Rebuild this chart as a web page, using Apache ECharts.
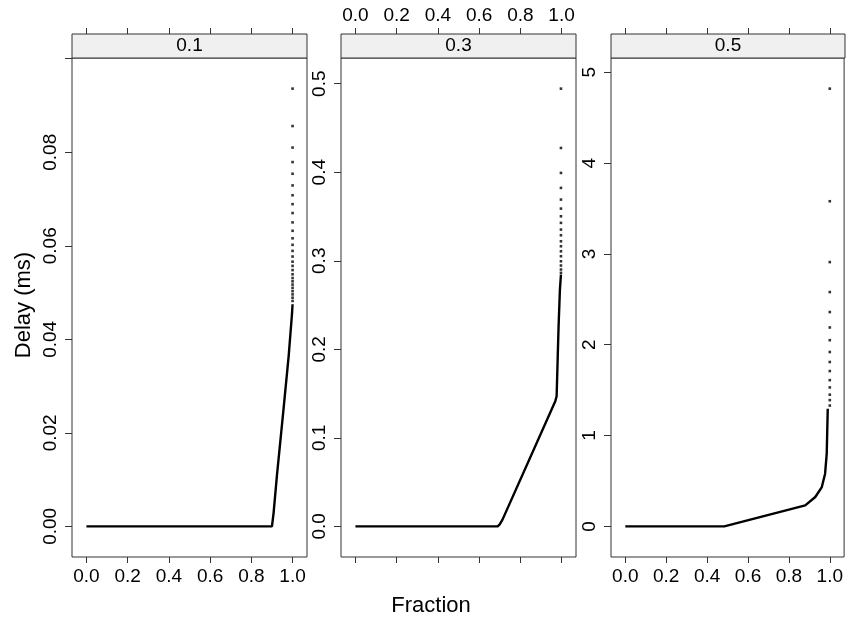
<!DOCTYPE html>
<html><head><meta charset="utf-8">
<script src="https://cdn.jsdelivr.net/npm/echarts@6/dist/echarts.min.js"></script>
<style>html,body{margin:0;padding:0;background:#fff}#c{width:846px;height:620px}</style>
</head><body><div id="c"></div>
<script>
// ---- data ----
const panelNames = ['0.1', '0.3', '0.5'];
const xTicks = [0, 0.2, 0.4, 0.6, 0.8, 1.0];

// panel "0.1"
const p1LineFrac  = [0, 0.900, 0.908, 0.924, 0.956, 0.981, 0.997, 1.0];
const p1LineDelay = [0, 0, 0.0029, 0.0108, 0.0250, 0.0364, 0.0453, 0.0475];
const p1DotDelay  = [0.0936, 0.0856, 0.0810, 0.0779, 0.0754, 0.0729, 0.0708, 0.0689, 0.0670, 0.0650,
                     0.0632, 0.0616, 0.0602, 0.0589, 0.0577, 0.0566, 0.0557, 0.0548, 0.0539, 0.0531,
                     0.0524, 0.0517, 0.0510, 0.0503, 0.0496, 0.0489, 0.0482];
const p1YTicks  = [0, 0.02, 0.04, 0.06, 0.08, 0.10];
const p1YLabels = [0, 0.02, 0.04, 0.06, 0.08];

// panel "0.3"
const p2LineFrac  = [0, 0.690, 0.700, 0.714, 0.9695, 0.976, 0.981, 0.9855, 0.992, 0.997];
const p2LineDelay = [0, 0, 0.0023, 0.0079, 0.1414, 0.147, 0.1885, 0.226, 0.2675, 0.2844];
const p2DotDelay  = [0.4944, 0.4274, 0.3992, 0.3823, 0.3691, 0.3589, 0.3502, 0.3428, 0.3352, 0.3288,
                     0.3220, 0.3164, 0.3107, 0.3051, 0.2994, 0.2946, 0.2901, 0.2863];
const p2YTicks  = [0, 0.1, 0.2, 0.3, 0.4, 0.5];

// panel "0.5"
const p3LineFrac  = [0, 0.484, 0.880, 0.929, 0.961, 0.977, 0.985, 0.990];
const p3LineDelay = [0, 0, 0.231, 0.323, 0.433, 0.580, 0.800, 1.296];
const p3DotDelay  = [4.82, 3.58, 2.91, 2.58, 2.36, 2.19, 2.05, 1.92, 1.81, 1.71, 1.61, 1.53, 1.45, 1.39, 1.33];
const p3YTicks  = [0, 1, 2, 3, 4, 5];

const dotFrac = [1.0, 0.997, 1.0];

// ---- layout ----
const PANEL_TOP = 58, PANEL_H = 499, STRIP_H = 24;
const panelLeft = [72, 341, 611];
const panelW = [235, 235, 234];
const FONT = '"Liberation Sans", Arial, Helvetica, sans-serif';
const TICK_FS = 19, TITLE_FS = 22;
const LINE = '#333333';

const panels = [
  {lf: p1LineFrac, ld: p1LineDelay, dots: p1DotDelay, yTicks: p1YTicks, yLabels: p1YLabels, dec: 2, bottomLabels: true},
  {lf: p2LineFrac, ld: p2LineDelay, dots: p2DotDelay, yTicks: p2YTicks, yLabels: p2YTicks, dec: 1, bottomLabels: false},
  {lf: p3LineFrac, ld: p3LineDelay, dots: p3DotDelay, yTicks: p3YTicks, yLabels: p3YTicks, dec: 0, bottomLabels: true}
];

const grid = [], xAxis = [], yAxis = [], series = [], graphic = [];
panels.forEach((p, i) => {
  const maxY = Math.max(...p.dots, ...p.ld);
  grid.push({left: panelLeft[i], top: PANEL_TOP, width: panelW[i], height: PANEL_H,
             show: true, borderColor: LINE, borderWidth: 1, backgroundColor: 'transparent'});
  const xfmt = v => v.toFixed(1);
  xAxis.push({type: 'value', gridIndex: i, position: 'bottom', min: -0.07, max: 1.07,
    axisLine: {show: false, onZero: false}, splitLine: {show: false},
    axisTick: {show: true, length: 6, lineStyle: {color: LINE}, customValues: xTicks},
    axisLabel: {show: p.bottomLabels, customValues: xTicks, formatter: xfmt, margin: 10,
                fontSize: TICK_FS, fontFamily: FONT, color: '#000'}});
  xAxis.push({type: 'value', gridIndex: i, position: 'top', offset: STRIP_H, min: -0.07, max: 1.07,
    axisLine: {show: false, onZero: false}, splitLine: {show: false},
    axisTick: {show: true, length: 6, lineStyle: {color: LINE}, customValues: xTicks},
    axisLabel: {show: !p.bottomLabels, customValues: xTicks, formatter: xfmt, margin: 9,
                fontSize: TICK_FS, fontFamily: FONT, color: '#000'}});
  yAxis.push({type: 'value', gridIndex: i, position: 'left', min: -0.07 * maxY, max: 1.07 * maxY,
    axisLine: {show: false, onZero: false}, splitLine: {show: false},
    axisTick: {show: true, length: 7, lineStyle: {color: LINE}, customValues: p.yTicks},
    axisLabel: {show: true, customValues: p.yLabels, rotate: 90, margin: 12,
                formatter: v => v.toFixed(p.dec), fontSize: TICK_FS, fontFamily: FONT, color: '#000'}});
  series.push({type: 'line', xAxisIndex: 2 * i, yAxisIndex: i, showSymbol: false, symbol: 'none',
    data: p.lf.map((f, k) => [f, p.ld[k]]), lineStyle: {color: '#000', width: 2.4}, animation: false, silent: true});
  series.push({type: 'scatter', xAxisIndex: 2 * i, yAxisIndex: i, symbol: 'rect', symbolSize: 2.6,
    data: p.dots.map(d => [dotFrac[i], d]), itemStyle: {color: '#000'}, animation: false, silent: true});
  // strip
  graphic.push({type: 'rect', shape: {x: panelLeft[i], y: PANEL_TOP - STRIP_H, width: panelW[i], height: STRIP_H},
    style: {fill: '#f0f0f0', stroke: LINE, lineWidth: 1}, z: 10});
  graphic.push({type: 'text', x: panelLeft[i] + panelW[i] / 2, y: PANEL_TOP - STRIP_H / 2,
    style: {text: panelNames[i], font: TICK_FS + 'px ' + FONT, fill: '#000', textAlign: 'center', textVerticalAlign: 'middle'}, z: 11});
});
graphic.push({type: 'text', x: 24, y: 305, rotation: Math.PI / 2,
  style: {text: 'Delay (ms)', font: TITLE_FS + 'px ' + FONT, fill: '#000', textAlign: 'center', textVerticalAlign: 'middle'}});
graphic.push({type: 'text', x: 431, y: 606,
  style: {text: 'Fraction', font: TITLE_FS + 'px ' + FONT, fill: '#000', textAlign: 'center', textVerticalAlign: 'middle'}});

const chart = echarts.init(document.getElementById('c'), null, {renderer: 'canvas'});
chart.setOption({animation: false, backgroundColor: '#fff', grid, xAxis, yAxis, series, graphic});
</script></body></html>
